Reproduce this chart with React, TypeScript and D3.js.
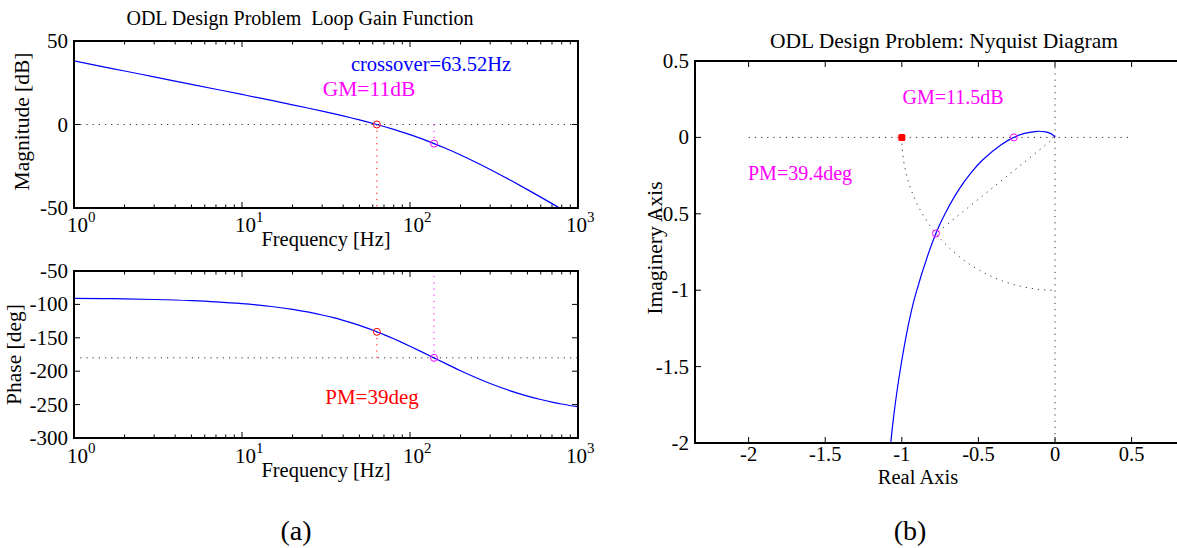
import React from 'react';
import * as d3 from 'd3';

// ---------- data ----------
const freqHz = [1, 1.5, 2, 3, 5, 7, 10, 15, 20, 25, 30, 35, 40, 45, 50, 63.5, 70, 80, 90, 100, 120, 139, 160, 200, 250, 300, 400, 500, 600, 700, 800, 1000];
const magDb = [38.05, 34.53, 32.03, 28.5, 24.06, 21.12, 17.99, 14.4, 11.8, 9.74, 8.01, 6.5, 5.15, 3.91, 2.77, 0.0, -1.2, -2.94, -4.56, -6.1, -8.94, -11.42, -13.93, -18.23, -22.88, -26.9, -33.59, -38.99, -43.5, -47.37, -50.75, -56.45];
const phaseDeg = [-90.88, -91.32, -91.76, -92.64, -94.41, -96.17, -98.8, -103.15, -107.45, -111.69, -115.84, -119.91, -123.87, -127.73, -131.48, -141.02, -145.3, -151.51, -157.27, -162.62, -172.18, -180.04, -187.56, -199.22, -210.19, -218.44, -229.82, -237.23, -242.39, -246.17, -249.05, -253.16];

const nyqRe = [-1.135, -1.096, -1.054, -1.007, -0.96, -0.911, -0.778, -0.716, -0.627, -0.546, -0.473, -0.354, -0.269, -0.199, -0.116, -0.062, -0.035, -0.0135, -0.0061, -0.0017, -0.0004];
const nyqIm = [-2.853, -2.263, -1.832, -1.501, -1.241, -1.031, -0.629, -0.496, -0.34, -0.229, -0.148, -0.049, 0.0, 0.026, 0.04, 0.036, 0.028, 0.016, 0.0094, 0.0039, 0.0014];

const crossoverHz = 63.52;
const gmHz = 139;
const gmDb = -11.42;
const pmPhase = -141.02;
const gmRe = -0.269;
const pmRe = -0.777;
const pmIm = -0.629;
const criticalPoint = [-1, 0];

const decades = [1, 10, 100, 1000];
const decadeExp = ['0', '1', '2', '3'];
const magTicks = [50, 0, -50];
const phaseTicks = [-50, -100, -150, -200, -250, -300];
const nyqXTicks = [-2, -1.5, -1, -0.5, 0, 0.5];
const nyqYTicks = [0.5, 0, -0.5, -1, -1.5, -2];
const nyqXLabels = ['-2', '-1.5', '-1', '-0.5', '0', '0.5'];
const nyqYLabels = ['0.5', '0', '-0.5', '-1', '-1.5', '-2'];

const FONT = '"Liberation Serif", "Times New Roman", serif';
const BLUE = '#0000ff';
const MAG = '#ff00ff';
const RED = '#ff0000';
const DOT = '1.2,5';

const minorTicks: number[] = [];
for (let d = 0; d < 3; d++) for (let k = 2; k <= 9; k++) minorTicks.push(k * Math.pow(10, d));

function LogXAxis({ x, top, bottom, labelY }: any) {
  return (
    <g>
      {decades.map((v, i) => (
        <g key={'M' + i}>
          <line x1={x(v)} x2={x(v)} y1={bottom} y2={bottom - 6} stroke="#000" />
          <line x1={x(v)} x2={x(v)} y1={top} y2={top + 6} stroke="#000" />
          <text x={x(v) - (i === 3 ? 12 : 7)} y={labelY} fontFamily={FONT} fontSize={21}>
            10<tspan dy={-10} fontSize={15}>{decadeExp[i]}</tspan>
          </text>
        </g>
      ))}
      {minorTicks.map((v, i) => (
        <g key={'m' + i}>
          <line x1={x(v)} x2={x(v)} y1={bottom} y2={bottom - 3.5} stroke="#000" />
          <line x1={x(v)} x2={x(v)} y1={top} y2={top + 3.5} stroke="#000" />
        </g>
      ))}
    </g>
  );
}

function YTicks({ y, ticks, left, right, labelX }: any) {
  return (
    <g>
      {ticks.map((v: number, i: number) => (
        <g key={i}>
          <line x1={left} x2={left + 6} y1={y(v)} y2={y(v)} stroke="#000" />
          <line x1={right} x2={right - 6} y1={y(v)} y2={y(v)} stroke="#000" />
          <text x={labelX} y={y(v)} textAnchor="end" dominantBaseline="central" fontFamily={FONT} fontSize={21}>
            {String(v)}
          </text>
        </g>
      ))}
    </g>
  );
}

export default function App() {
  // ---- Bode geometry ----
  const L = 74, R = 578;
  const magTop = 41, magBot = 208;
  const phTop = 271, phBot = 438;
  const x = d3.scaleLog().domain([1, 1000]).range([L, R]);
  const yMag = d3.scaleLinear().domain([-50, 50]).range([magBot, magTop]);
  const yPh = d3.scaleLinear().domain([-300, -50]).range([phBot, phTop]);

  const magLine = d3.line<number>().x((_, i) => x(freqHz[i])).y((d) => yMag(d)).curve(d3.curveMonotoneX);
  const phLine = d3.line<number>().x((_, i) => x(freqHz[i])).y((d) => yPh(d)).curve(d3.curveMonotoneX);

  // ---- Nyquist geometry ----
  const NL = 695, NR = 1192.9, NT = 61, NB = 443;
  const nx = d3.scaleLinear().domain([-2.35, 0.9]).range([NL, NR]);
  const ny = d3.scaleLinear().domain([-2, 0.5]).range([NB, NT]);
  const nyqLine = d3.line<number>().x((d) => nx(d)).y((_, i) => ny(nyqIm[i])).curve(d3.curveCatmullRom);

  const arcPts: [number, number][] = d3.range(0, 91, 2).map((a) => [nx(-Math.cos((a * Math.PI) / 180)), ny(-Math.sin((a * Math.PI) / 180))]);
  const arcPath = d3.line()(arcPts) || '';

  return (
    <svg width={1177} height={548} style={{ position: 'absolute', left: 0, top: 0, background: '#fff' }}>
      <defs>
        <clipPath id="cMag"><rect x={L} y={magTop} width={R - L} height={magBot - magTop} /></clipPath>
        <clipPath id="cPh"><rect x={L} y={phTop} width={R - L} height={phBot - phTop} /></clipPath>
        <clipPath id="cNyq"><rect x={NL} y={NT} width={NR - NL} height={NB - NT} /></clipPath>
      </defs>
      <rect x={0} y={0} width={1177} height={548} fill="#fff" />

      {/* ================= Magnitude ================= */}
      <text x={300} y={25} textAnchor="middle" fontFamily={FONT} fontSize={20} style={{ whiteSpace: 'pre' }}>
        {'ODL Design Problem  Loop Gain Function'}
      </text>
      <g clipPath="url(#cMag)">
        <line x1={L} x2={R} y1={yMag(0)} y2={yMag(0)} stroke="#333" strokeDasharray={DOT} />
        <line x1={x(crossoverHz)} x2={x(crossoverHz)} y1={yMag(0)} y2={magBot} stroke={RED} strokeDasharray={DOT} />
        <line x1={x(gmHz)} x2={x(gmHz)} y1={yMag(0)} y2={yMag(gmDb)} stroke={MAG} strokeDasharray={DOT} />
        <path d={magLine(magDb) || ''} fill="none" stroke={BLUE} strokeWidth={1.2} />
        <circle cx={x(crossoverHz)} cy={yMag(0)} r={3.5} fill="none" stroke={RED} />
        <circle cx={x(gmHz)} cy={yMag(gmDb)} r={3.5} fill="none" stroke={MAG} />
      </g>
      <LogXAxis x={x} top={magTop} bottom={magBot} labelY={232} />
      <YTicks y={yMag} ticks={magTicks} left={L} right={R} labelX={68} />
      <rect x={L} y={magTop} width={R - L} height={magBot - magTop} fill="none" stroke="#000" strokeWidth={2} />
      <text x={431} y={71} textAnchor="middle" fontFamily={FONT} fontSize={20.5} fill={BLUE}>crossover=63.52Hz</text>
      <text x={369} y={96} textAnchor="middle" fontFamily={FONT} fontSize={21.5} fill={MAG}>GM=11dB</text>
      <text x={326} y={246} textAnchor="middle" fontFamily={FONT} fontSize={20.5}>Frequency [Hz]</text>
      <text transform={`translate(29,${(magTop + magBot) / 2 - 3}) rotate(-90)`} textAnchor="middle" fontFamily={FONT} fontSize={21.5}>Magnitude [dB]</text>

      {/* ================= Phase ================= */}
      <g clipPath="url(#cPh)">
        <line x1={L} x2={R} y1={yPh(-180)} y2={yPh(-180)} stroke="#333" strokeDasharray={DOT} />
        <line x1={x(crossoverHz)} x2={x(crossoverHz)} y1={yPh(pmPhase)} y2={yPh(-180)} stroke={RED} strokeDasharray={DOT} />
        <line x1={x(gmHz)} x2={x(gmHz)} y1={yPh(-180)} y2={phTop} stroke={MAG} strokeDasharray={DOT} />
        <path d={phLine(phaseDeg) || ''} fill="none" stroke={BLUE} strokeWidth={1.2} />
        <circle cx={x(crossoverHz)} cy={yPh(pmPhase)} r={3.5} fill="none" stroke={RED} />
        <circle cx={x(gmHz)} cy={yPh(-180)} r={3.5} fill="none" stroke={MAG} />
      </g>
      <LogXAxis x={x} top={phTop} bottom={phBot} labelY={463} />
      <YTicks y={yPh} ticks={phaseTicks} left={L} right={R} labelX={68} />
      <rect x={L} y={phTop} width={R - L} height={phBot - phTop} fill="none" stroke="#000" strokeWidth={2} />
      <text x={372} y={404} textAnchor="middle" fontFamily={FONT} fontSize={21} fill={RED}>PM=39deg</text>
      <text x={326} y={477} textAnchor="middle" fontFamily={FONT} fontSize={20.5}>Frequency [Hz]</text>
      <text transform={`translate(21,${(phTop + phBot) / 2}) rotate(-90)`} textAnchor="middle" fontFamily={FONT} fontSize={21.5}>Phase [deg]</text>

      {/* ================= Nyquist ================= */}
      <text x={944} y={48} textAnchor="middle" fontFamily={FONT} fontSize={21.5}>ODL Design Problem: Nyquist Diagram</text>
      <g clipPath="url(#cNyq)">
        <line x1={nx(-2)} x2={nx(0.5)} y1={ny(0)} y2={ny(0)} stroke="#333" strokeDasharray={DOT} />
        <line x1={nx(0)} x2={nx(0)} y1={NT} y2={NB} stroke="#333" strokeDasharray={DOT} />
        <path d={arcPath} fill="none" stroke="#333" strokeDasharray={DOT} />
        <line x1={nx(0)} x2={nx(pmRe)} y1={ny(0)} y2={ny(pmIm)} stroke="#333" strokeDasharray={DOT} />
        <path d={nyqLine(nyqRe) || ''} fill="none" stroke={BLUE} strokeWidth={1.2} />
        <rect x={nx(criticalPoint[0]) - 3.5} y={ny(criticalPoint[1]) - 3.5} width={7} height={7} rx={1.5} fill={RED} />
        <circle cx={nx(gmRe)} cy={ny(0)} r={3.5} fill="none" stroke={MAG} />
        <circle cx={nx(pmRe)} cy={ny(pmIm)} r={3.5} fill="none" stroke={MAG} />
      </g>
      {nyqXTicks.map((v, i) => (
        <g key={'nx' + i}>
          <line x1={nx(v)} x2={nx(v)} y1={NB} y2={NB - 6} stroke="#000" />
          <line x1={nx(v)} x2={nx(v)} y1={NT} y2={NT + 6} stroke="#000" />
          <text x={nx(v)} y={461} textAnchor="middle" fontFamily={FONT} fontSize={20.5}>{nyqXLabels[i]}</text>
        </g>
      ))}
      {nyqYTicks.map((v, i) => (
        <g key={'ny' + i}>
          <line x1={NL} x2={NL + 6} y1={ny(v)} y2={ny(v)} stroke="#000" />
          <text x={689} y={ny(v)} textAnchor="end" dominantBaseline="central" fontFamily={FONT} fontSize={21}>{nyqYLabels[i]}</text>
        </g>
      ))}
      <rect x={NL} y={NT} width={NR - NL} height={NB - NT} fill="none" stroke="#000" strokeWidth={2} />
      <text x={953} y={104} textAnchor="middle" fontFamily={FONT} fontSize={20} fill={MAG}>GM=11.5dB</text>
      <text x={800} y={180} textAnchor="middle" fontFamily={FONT} fontSize={20} fill={MAG}>PM=39.4deg</text>
      <text x={918} y={484} textAnchor="middle" fontFamily={FONT} fontSize={20.5}>Real Axis</text>
      <text transform={`translate(662,${(NT + NB) / 2 - 4}) rotate(-90)`} textAnchor="middle" fontFamily={FONT} fontSize={21.5}>Imaginery Axis</text>

      {/* captions */}
      <text x={296} y={540} textAnchor="middle" fontFamily={FONT} fontSize={28}>(a)</text>
      <text x={910} y={540} textAnchor="middle" fontFamily={FONT} fontSize={28}>(b)</text>
    </svg>
  );
}
